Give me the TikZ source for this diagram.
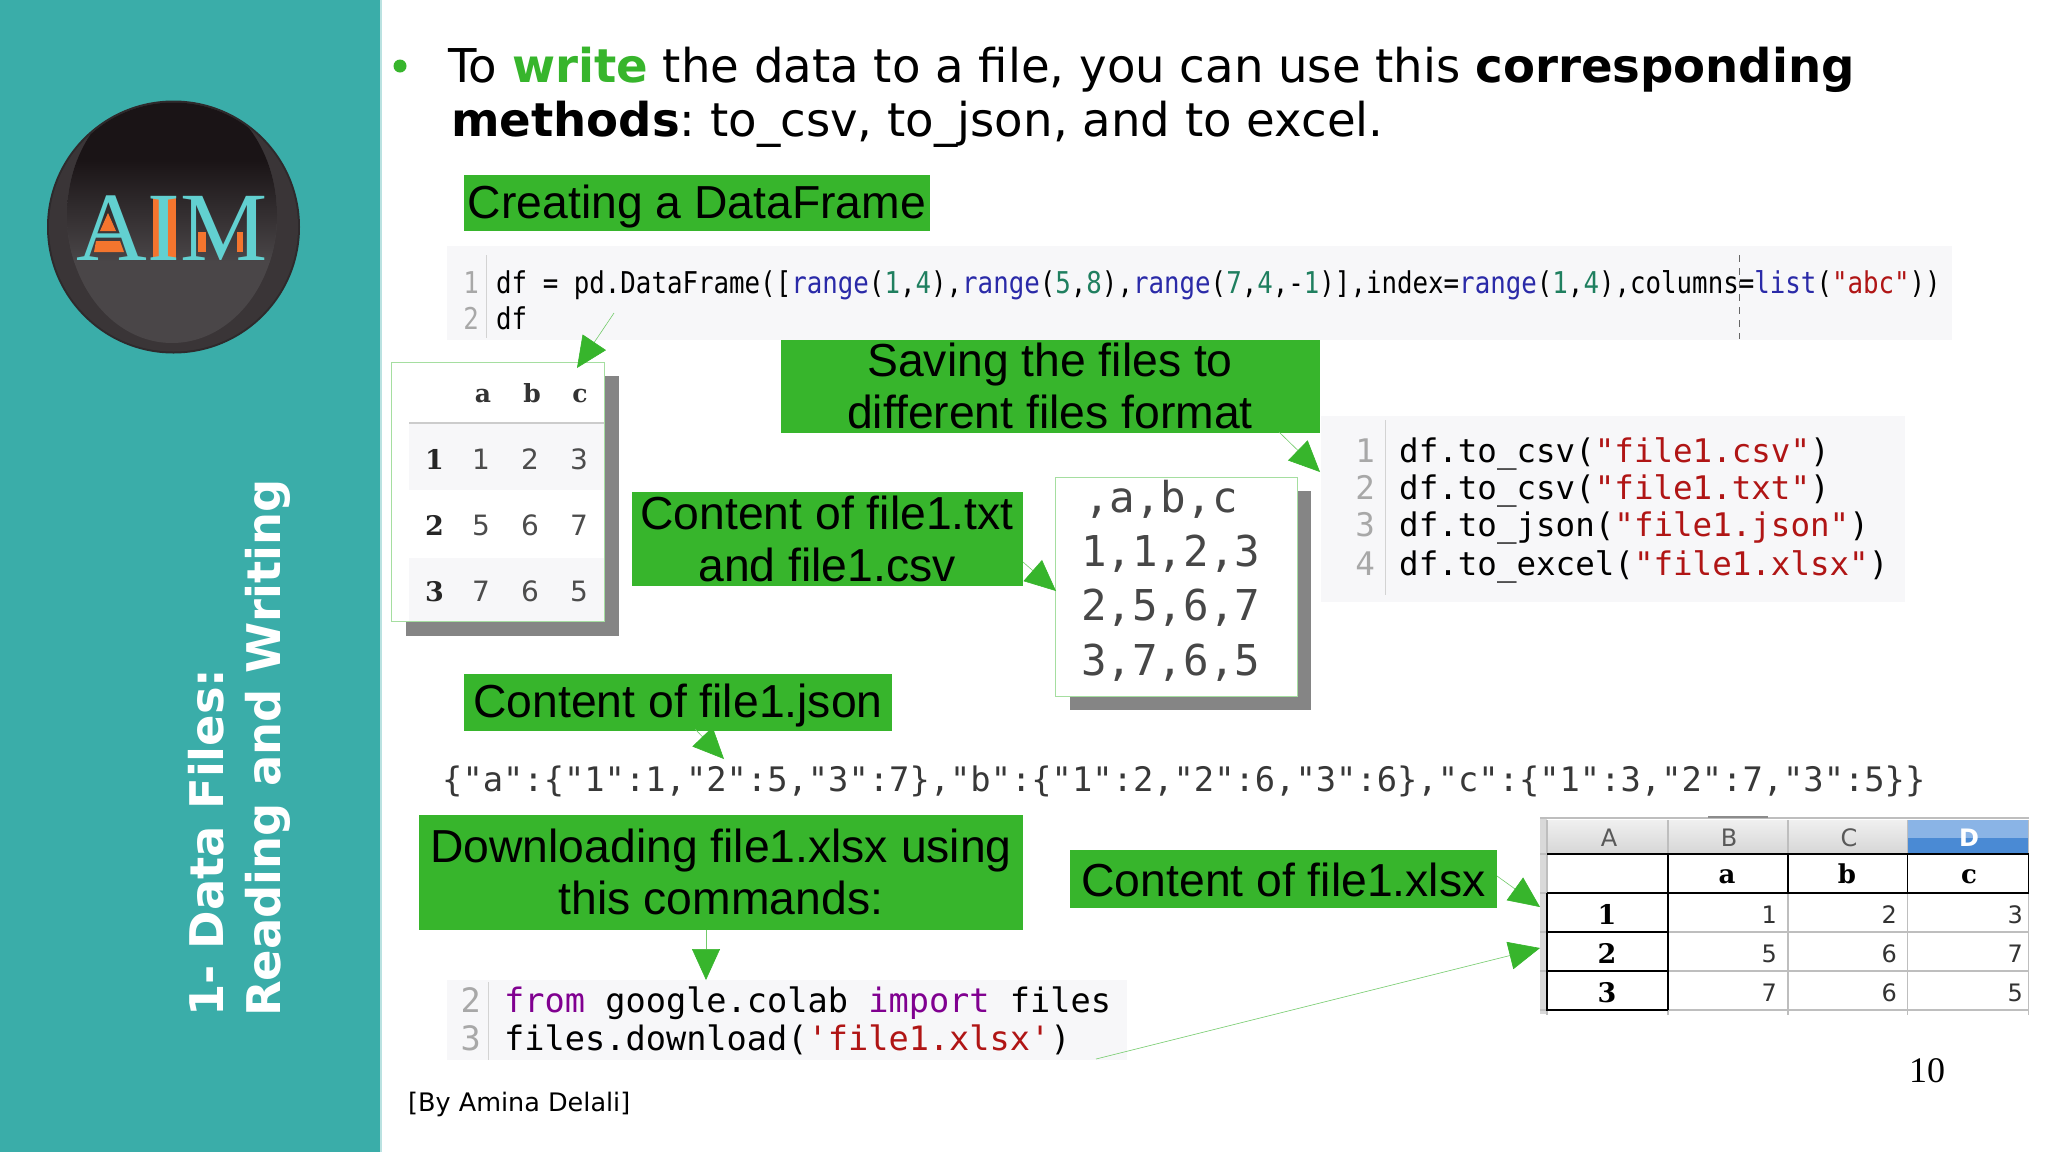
\documentclass[tikz,border=0pt]{standalone}
\usepackage{fontspec}
\usetikzlibrary{arrows.meta}
\setmainfont{DejaVu Sans}
\newfontfamily\lib{Liberation Sans}
\newfontfamily\libs{Liberation Serif}
\newfontfamily\dser{DejaVu Serif}
\newfontfamily\monoa[FakeStretch=0.86]{DejaVu Sans Mono}
\newfontfamily\monob{DejaVu Sans Mono}
\definecolor{teal1}{HTML}{3AADA9}
\definecolor{gbox}{HTML}{37B52C}
\definecolor{codebg}{HTML}{F7F7F9}
\definecolor{kw}{HTML}{2A2AA8}
\definecolor{nm}{HTML}{1F7F5F}
\definecolor{st}{HTML}{B01515}
\definecolor{pu}{HTML}{800090}
\definecolor{shad}{HTML}{858585}
\definecolor{lnum}{HTML}{A8A8A8}
\definecolor{orng}{HTML}{F4752E}
\definecolor{aimt}{HTML}{62D0D0}
\definecolor{celg}{HTML}{BEBEBE}
\definecolor{logoout}{HTML}{2E2A2C}
\definecolor{logoring}{HTML}{3A3537}
\definecolor{logotop}{HTML}{1A1416}
\definecolor{logolow}{HTML}{4A4648}
\definecolor{dtop}{HTML}{8AB4E6}
\definecolor{dlow}{HTML}{4A8AD4}
\newcommand{\fs}[1]{\fontsize{#1}{#1}\selectfont}
\newcommand{\lowered}[2]{\raisebox{-#1pt}[\height][\depth]{#2}}
\frenchspacing
\tikzset{
 x=1pt,y=-1pt,
 gbx/.style={fill=gbox,draw=none,inner sep=0pt,align=center,font=\lib\fs{46.3}\selectfont,text=black},
 txt/.style={anchor=base west,inner sep=0pt,text=black},
 num/.style={anchor=base east,inner sep=0pt,text=lnum},
 ctr/.style={anchor=base,inner sep=0pt},
 frame/.style={draw=gbox!45,fill=white,line width=0.8pt},
 conn/.style={draw=gbox!70,line width=0.6pt,-{Triangle[length=31pt,width=28pt,fill=gbox,color=gbox]},shorten >=0pt},
}
\begin{document}
\begin{tikzpicture}
\useasboundingbox (0,0) rectangle (2048,1152);
\fill[white] (0,0) rectangle (2048,1152);
\fill[teal1] (0,0) rectangle (380,1152);
\fill[teal1!35] (380,0) rectangle (382,1152);
% logo
\fill[logoout] (173.5,227) circle (126.5);
\begin{scope}
\clip (173.5,227) circle (124.5);
\fill[logoring] (40,95) rectangle (310,360);
\fill[logotop] (40,95) rectangle (310,125);
\clip (172,215) ellipse (105 and 128);
\fill[logolow] (60,90) rectangle (290,350);
\shade[top color=logotop,bottom color=logolow] (60,160) rectangle (290,262);
\fill[logotop] (60,90) rectangle (290,161);
\end{scope}
\fill[orng] (108,213) -- (116,231) -- (100,231) -- cycle;
\fill[orng] (96,241) -- (120,241) -- (124,252) -- (94,252) -- cycle;
\fill[orng] (153,197) rectangle (176,258);
\fill[orng] (198,232) rectangle (206,252);
\fill[orng] (237,232) rectangle (243,252);
\node[ctr,font=\libs\fs{98},text=aimt] (aim) at (172,260) {AIM};
% sidebar title
\node[rotate=90,anchor=base west,inner sep=0pt,font=\bfseries\fs{46.4},text=white] (sa) at (223,1017) {1- Data Files:};
\node[rotate=90,anchor=base west,inner sep=0pt,font=\bfseries\fs{46.4},text=white] (sb) at (280,1017) {Reading and Writing};
% heading
\fill[gbox] (400,66) circle (6.5);
\node[txt,font=\fs{46.6}] (h1) at (448,82) {To \textbf{\textcolor{gbox}{write}} the data to a file, you can use this \textbf{corresponding}};
\node[txt,font=\fs{46.6}] (h2) at (451,136) {\textbf{methods}: to\_csv, to\_json, and to excel.};
% green boxes
\node[gbx,minimum width=466pt,minimum height=56pt] (g1) at (697,203) {\lowered{4}{Creating a DataFrame}};
\node[gbx,minimum width=539pt,minimum height=94pt] (g2) at (1050,386) {Saving the files to\\[5.5pt]different files format};
\node[gbx,minimum width=391pt,minimum height=94pt] (g3) at (827,539) {Content of file1.txt\\[5.5pt]and file1.csv};
\node[gbx,minimum width=428pt,minimum height=57pt] (g4) at (678,702) {\lowered{4}{Content of file1.json}};
\node[gbx,minimum width=604pt,minimum height=115pt] (g5) at (721,872) {Downloading file1.xlsx using\\[5.5pt]this commands:};
\node[gbx,minimum width=427pt,minimum height=58pt] (g6) at (1283.5,879) {\lowered{1.3}{Content of file1.xlsx}};
% code 1
\fill[codebg] (447,246) rectangle (1952,340);
\draw[lnum!50,line width=.8pt] (486,255) -- (486,338);
\node[num,font=\monoa\fs{30}] (c1n1) at (479,293) {1};
\node[num,font=\monoa\fs{30}] (c1n2) at (479,329) {2};
\node[txt,font=\monoa\fs{30}] (c1l1) at (496,293) {df = pd.DataFrame([\textcolor{kw}{range}(\textcolor{nm}{1},\textcolor{nm}{4}),\textcolor{kw}{range}(\textcolor{nm}{5},\textcolor{nm}{8}),\textcolor{kw}{range}(\textcolor{nm}{7},\textcolor{nm}{4},-\textcolor{nm}{1})],index=\textcolor{kw}{range}(\textcolor{nm}{1},\textcolor{nm}{4}),columns=\textcolor{kw}{list}(\textcolor{st}{"abc"}))};
\node[txt,font=\monoa\fs{30}] (c1l2) at (496,329) {df};
\draw[black!60,line width=.9pt,dash pattern=on 7pt off 6pt] (1739,255) -- (1739,339);
% table 1
\fill[shad] (406,376) rectangle (619,636);
\draw[frame] (391.5,362) rectangle (604,621);
\fill[codebg] (409,424) rectangle (604,490);
\fill[codebg] (409,558) rectangle (604,620.5);
\draw[black!20,line width=1.5pt] (409,423) -- (604,423);
\foreach \t/\cx/\cy/\nm in {a/483/402/ta,b/532/402/tb,c/580/402/tc}{\node[ctr,font=\dser\bfseries\fs{25},text=black!80] (\nm) at (\cx,\cy) {\t};}
\foreach \t/\cy/\nm in {1/469/r1,2/535/r2,3/601/r3}{\node[ctr,font=\dser\bfseries\fs{27},text=black!85] (\nm) at (434.5,\cy) {\t};}
\foreach \t/\cx/\cy/\nm in {1/481/469/a1,2/530/469/a2,3/579/469/a3,5/481/535/b1,6/530/535/b2,7/579/535/b3,7/481/601/d1,6/530/601/d2,5/579/601/d3}{\node[ctr,font=\fs{28},text=black!70] (\nm) at (\cx,\cy) {\t};}
% code 2
\fill[codebg] (1321,416) rectangle (1905,602);
\draw[lnum!50,line width=.8pt] (1385,420) -- (1385,595);
\foreach \n/\cy/\nm in {1/462/n1,2/499/n2,3/536/n3,4/575/n4}{\node[num,font=\monob\fs{32.5}] (\nm) at (1375,\cy) {\n};}
\node[txt,font=\monob\fs{32.5}] (k1) at (1399,462) {df.to\_csv(\textcolor{st}{"file1.csv"})};
\node[txt,font=\monob\fs{32.5}] (k2) at (1399,499) {df.to\_csv(\textcolor{st}{"file1.txt"})};
\node[txt,font=\monob\fs{32.5}] (k3) at (1399,536) {df.to\_json(\textcolor{st}{"file1.json"})};
\node[txt,font=\monob\fs{32.5}] (k4) at (1399,575) {df.to\_excel(\textcolor{st}{"file1.xlsx"})};
% csv box
\fill[shad] (1070,491) rectangle (1311,710);
\draw[frame] (1055.5,477) rectangle (1297,696);
\foreach \t/\cx/\cy/\nm in {{,a,b,c}/1084/512/v0,{1,1,2,3}/1081/566/v1,{2,5,6,7}/1081/620/v2,{3,7,6,5}/1081/675/v3}{\node[txt,font=\monob\fs{42.5},text=black!72] (\nm) at (\cx,\cy) {\t};}
% json
\node[txt,font=\monob\fs{33.75},text=black!78] (js) at (442,791) {\{"a":\{"1":1,"2":5,"3":7\},"b":\{"1":2,"2":6,"3":6\},"c":\{"1":3,"2":7,"3":5\}\}};
% code 3
\fill[codebg] (447,980) rectangle (1127,1060);
\draw[lnum!50,line width=.8pt] (488,982) -- (488,1060);
\node[num,font=\monob\fs{33.6}] (m1) at (481,1012) {2};
\node[num,font=\monob\fs{33.6}] (m2) at (481,1050) {3};
\node[txt,font=\monob\fs{33.6}] (m3) at (504,1012) {\textcolor{pu}{from} google.colab \textcolor{pu}{import} files};
\node[txt,font=\monob\fs{33.6}] (m4) at (504,1050) {files.download(\textcolor{st}{'file1.xlsx'})};
% spreadsheet
\shade[top color=white!94!black,bottom color=white!84!black] (1547,820) rectangle (1907.5,854);
\fill[dtop] (1907.5,820) rectangle (2028.5,838);
\fill[dlow] (1907.5,838) rectangle (2028.5,854);
\fill[black!15] (1540,818) rectangle (1547,1014);
\draw[celg,line width=2pt] (1540,818) -- (2028.5,818);
\draw[black!45,line width=2pt] (1708,817) -- (1768,817);
\foreach \cx in {1668,1788,1907.5,2028.5}{\draw[celg,line width=1.5pt] (\cx,820) -- (\cx,1015);}
\draw[celg,line width=1.5pt] (1547,820) -- (1547,1015);
\foreach \cy in {854,893,932,971,1010}{\draw[celg,line width=1.5pt] (1540,\cy) -- (2028.5,\cy);}
\draw[black,line width=1.5pt] (1547,854) -- (2028.5,854);
\draw[black,line width=1.5pt] (1668,854) -- (1668,1010) (1788,854) -- (1788,893) (1907.5,854) -- (1907.5,893) (2028.5,854) -- (2028.5,893);
\draw[black,line width=1.5pt] (1547,893) -- (2028.5,893);
\draw[black,line width=1.5pt] (1547,893) -- (1547,1010) -- (1668,1010) (1547,932) -- (1668,932) (1547,971) -- (1668,971);
\foreach \t/\cx/\nm in {A/1609/sa1,B/1729/sa2,C/1849/sa3}{\node[ctr,font=\fs{24},text=black!65] (\nm) at (\cx,846) {\t};}
\node[ctr,font=\bfseries\fs{24},text=white] (sa4) at (1969,846) {D};
\foreach \t/\cx/\nm in {a/1727/sb1,b/1847/sb2,c/1969/sb3}{\node[ctr,font=\dser\bfseries\fs{26}] (\nm) at (\cx,883) {\t};}
\foreach \t/\cy/\nm in {1/924/se1,2/963/se2,3/1002/se3}{\node[ctr,font=\dser\bfseries\fs{27}] (\nm) at (1607,\cy) {\t};}
\foreach \t/\cx/\cy/\nm in {1/1777/923/x1,2/1897/923/x2,3/2023/923/x3,5/1777/962/y1,6/1897/962/y2,7/2023/962/y3,7/1777/1001/z1,6/1897/1001/z2,5/2023/1001/z3}{\node[anchor=base east,inner sep=0pt,font=\fs{24},text=black!80] (\nm) at (\cx,\cy) {\t};}
% footer
\node[txt,font=\fs{25.5}] (by) at (408,1111) {[By Amina Delali]};
\node[ctr,font=\libs\fs{36}] (pg) at (1927,1082) {10};
% connectors
\coordinate (s1) at (614,313); \coordinate (e1) at (577,368);
\coordinate (s2) at (1279,432); \coordinate (e2) at (1320,472);
\coordinate (s3) at (1023,562); \coordinate (e3) at (1056,591);
\coordinate (s4) at (695,729); \coordinate (e4) at (724,759);
\coordinate (s5) at (706,930); \coordinate (e5) at (706,980);
\coordinate (s6) at (1497,876); \coordinate (e6) at (1540,907);
\coordinate (s7) at (1096,1059); \coordinate (e7) at (1540,948);
\foreach \i in {1,...,7}{\draw[conn] (s\i) -- (e\i);}
\end{tikzpicture}
\end{document}
